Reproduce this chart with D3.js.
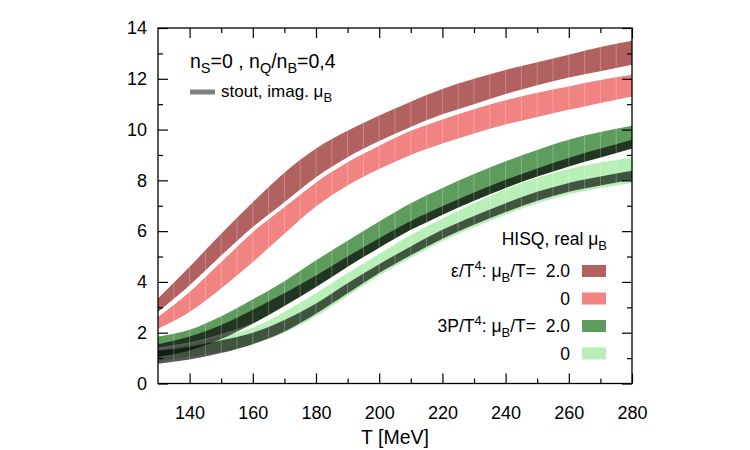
<!DOCTYPE html>
<html>
<head>
<meta charset="utf-8">
<script src="https://cdn.jsdelivr.net/npm/d3@7"></script>
<style>
  body { margin: 0; background: #fff; }
  svg { display: block; font-family: "Liberation Sans", Arial, Helvetica, sans-serif; }
</style>
</head>
<body>
<div class="chart"></div>
<script>
// temperature grid (MeV)
const T = [130, 140, 150, 160, 170, 180, 190, 200, 210, 220, 230, 240, 250, 260, 270, 280];

// HISQ, real muB : energy density eps/T^4
const epsMu2Lo = [2.82, 3.87, 5.04, 6.16, 7.14, 8.12, 8.91, 9.55, 10.1, 10.6, 11.0, 11.4, 11.75, 12.05, 12.3, 12.55];
const epsMu2Hi = [3.35, 4.6, 5.9, 7.14, 8.3, 9.25, 9.95, 10.55, 11.1, 11.6, 12.0, 12.35, 12.65, 12.95, 13.25, 13.5];
const epsMu0Lo = [2.16, 2.82, 3.74, 4.78, 5.9, 6.97, 7.8, 8.45, 9.0, 9.45, 9.85, 10.2, 10.5, 10.78, 11.05, 11.3];
const epsMu0Hi = [2.62, 3.6, 4.78, 5.96, 6.94, 7.92, 8.71, 9.36, 9.95, 10.4, 10.8, 11.15, 11.45, 11.7, 11.95, 12.16];

// HISQ, real muB : 3P/T^4
const pMu2Lo = [1.42, 1.62, 1.95, 2.38, 3.06, 3.8, 4.6, 5.35, 6.05, 6.65, 7.2, 7.7, 8.15, 8.55, 8.9, 9.25];
const pMu2Hi = [1.85, 2.12, 2.65, 3.32, 4.03, 4.85, 5.62, 6.38, 7.1, 7.7, 8.25, 8.75, 9.2, 9.6, 9.9, 10.15];
const pMu0Lo = [0.9, 1.05, 1.25, 1.55, 2.0, 2.65, 3.45, 4.25, 4.95, 5.6, 6.15, 6.65, 7.1, 7.45, 7.7, 7.9];
const pMu0Hi = [1.3, 1.55, 1.85, 2.2, 2.82, 3.55, 4.35, 5.1, 5.85, 6.5, 7.1, 7.65, 8.1, 8.45, 8.7, 8.9];

// stout, imaginary muB (grey bands)
const stoutMu2Lo = [1.05, 1.3, 1.75, 2.35, 3.05, 3.8, 4.6, 5.35, 6.05, 6.65, 7.2, 7.7, 8.15, 8.55, 8.9, 9.25];
const stoutMu2Hi = [1.55, 1.85, 2.3, 2.9, 3.55, 4.25, 5.0, 5.72, 6.4, 6.98, 7.52, 8.02, 8.47, 8.88, 9.25, 9.6];
const stoutMu0Lo = [0.78, 0.95, 1.2, 1.55, 2.05, 2.75, 3.55, 4.35, 5.05, 5.7, 6.25, 6.75, 7.2, 7.55, 7.8, 8.02];
const stoutMu0Hi = [1.3, 1.45, 1.7, 2.0, 2.5, 3.15, 3.95, 4.7, 5.4, 6.05, 6.6, 7.1, 7.55, 7.9, 8.15, 8.38];

const xTicks = [140, 160, 180, 200, 220, 240, 260, 280];
const yTicks = [0, 2, 4, 6, 8, 10, 12, 14];

const width = 750, height = 450;
const margin = {top: 28, right: 118, bottom: 66.5, left: 158};

const svg = d3.select('.chart').append('svg')
  .attr('width', width)
  .attr('height', height)
  .attr('viewBox', `0 0 ${width} ${height}`);

svg.append('rect').attr('width', width).attr('height', height).attr('fill', '#fff');

const x = d3.scaleLinear().domain([130, 280]).range([margin.left, width - margin.right]);
const y = d3.scaleLinear().domain([0, 14]).range([height - margin.bottom, margin.top]);

const area = d3.area()
  .x((d, i) => x(T[i]))
  .y0(d => y(d[0]))
  .y1(d => y(d[1]))
  .curve(d3.curveMonotoneX);

const pairs = (lo, hi) => T.map((t, i) => [lo[i], hi[i]]);

const bands = [
  {d: pairs(epsMu2Lo, epsMu2Hi), fill: '#b26161', op: 1},
  {d: pairs(epsMu0Lo, epsMu0Hi), fill: '#f28383', op: 1},
  {d: pairs(pMu2Lo, pMu2Hi), fill: '#5e9c5e', op: 1},
  {d: pairs(pMu0Lo, pMu0Hi), fill: '#b7efb7', op: 1},
  {d: pairs(stoutMu2Lo, stoutMu2Hi), fill: '#000', op: 0.65},
  {d: pairs(stoutMu0Lo, stoutMu0Hi), fill: '#000', op: 0.65}
];

// clip for the faint seams between the band segments
svg.append('clipPath').attr('id', 'bandClip')
  .selectAll('path').data(bands).join('path')
  .attr('d', b => area(b.d));

svg.append('g').selectAll('path').data(bands).join('path')
  .attr('d', b => area(b.d))
  .attr('fill', b => b.fill)
  .attr('fill-opacity', b => b.op);

svg.append('g').attr('clip-path', 'url(#bandClip)')
  .selectAll('line').data(d3.range(135, 280, 5)).join('line')
  .attr('x1', d => x(d)).attr('x2', d => x(d))
  .attr('y1', y(14)).attr('y2', y(0))
  .attr('stroke', '#fff').attr('stroke-opacity', 0.25).attr('stroke-width', 1);

// axes with inward ticks on all four sides
const styleAxis = g => {
  g.select('.domain').remove();
  g.selectAll('.tick line').attr('stroke', '#000').attr('stroke-width', 1.2);
  g.attr('font-family', null).attr('font-size', 18);
  g.selectAll('text').attr('fill', '#000');
};

svg.append('g').attr('transform', `translate(0,${y(0)})`)
  .call(d3.axisBottom(x).tickValues(xTicks).tickSize(-10).tickPadding(23).tickFormat(d3.format('d')))
  .call(styleAxis);
svg.append('g').attr('transform', `translate(0,${y(0)})`)
  .call(d3.axisBottom(x).tickValues(d3.range(150, 281, 20)).tickSize(-5).tickFormat(''))
  .call(styleAxis);
svg.append('g').attr('transform', `translate(0,${y(14)})`)
  .call(d3.axisTop(x).tickValues(xTicks).tickSize(-10).tickFormat(''))
  .call(styleAxis);
svg.append('g').attr('transform', `translate(0,${y(14)})`)
  .call(d3.axisTop(x).tickValues(d3.range(150, 281, 20)).tickSize(-5).tickFormat(''))
  .call(styleAxis);

svg.append('g').attr('transform', `translate(${x(130)},0)`)
  .call(d3.axisLeft(y).tickValues(yTicks).tickSize(-10).tickPadding(11).tickFormat(d3.format('d')))
  .call(styleAxis);
svg.append('g').attr('transform', `translate(${x(130)},0)`)
  .call(d3.axisLeft(y).tickValues(d3.range(1, 14, 2)).tickSize(-5).tickFormat(''))
  .call(styleAxis);
svg.append('g').attr('transform', `translate(${x(280)},0)`)
  .call(d3.axisRight(y).tickValues(yTicks).tickSize(-10).tickFormat(''))
  .call(styleAxis);
svg.append('g').attr('transform', `translate(${x(280)},0)`)
  .call(d3.axisRight(y).tickValues(d3.range(1, 14, 2)).tickSize(-5).tickFormat(''))
  .call(styleAxis);

svg.append('rect')
  .attr('x', x(130)).attr('y', y(14))
  .attr('width', x(280) - x(130)).attr('height', y(0) - y(14))
  .attr('fill', 'none').attr('stroke', '#000').attr('stroke-width', 1.3);

svg.append('text')
  .attr('x', (x(130) + x(280)) / 2).attr('y', 444)
  .attr('text-anchor', 'middle').attr('font-size', 19.5)
  .text('T [MeV]');

// helper: text made of runs; each run [string, shift] where shift 'sub' / 'sup' / none
function richText(sel, runs, big, small) {
  let cur = 0;
  runs.forEach(([s, k]) => {
    const target = k === 'sub' ? 5 : k === 'sup' ? -7 : 0;
    sel.append('tspan')
      .attr('dy', target - cur)
      .attr('font-size', k ? small : big)
      .text(s);
    cur = target;
  });
  if (cur !== 0) sel.append('tspan').attr('dy', -cur).text('');
}

// top-left legend
const tl = svg.append('text').attr('x', 190).attr('y', 68);
richText(tl, [['n'], ['S', 'sub'], ['=0 , n'], ['Q', 'sub'], ['/n'], ['B', 'sub'], ['=0,4']], 19.5, 14.5);

svg.append('line')
  .attr('x1', 190).attr('x2', 215).attr('y1', 92).attr('y2', 92)
  .attr('stroke', '#808080').attr('stroke-width', 5);
const st = svg.append('text').attr('x', 221).attr('y', 97);
richText(st, [['stout, imag. μ'], ['B', 'sub']], 17, 13);

// right legend
const hq = svg.append('text').attr('x', 607).attr('y', 245).attr('text-anchor', 'end');
richText(hq, [['HISQ, real μ'], ['B', 'sub']], 17.5, 13);

const legendLabels = [
  [['ε/T'], ['4', 'sup'], [': μ'], ['B', 'sub'], ['/T=\u00a0\u00a02.0']],
  [['0']],
  [['3P/T'], ['4', 'sup'], [': μ'], ['B', 'sub'], ['/T=\u00a0\u00a02.0']],
  [['0']]
];
const legendColors = ['#b26161', '#f28383', '#5e9c5e', '#b7efb7'];

legendLabels.forEach((runs, i) => {
  const yb = 277 + i * 27.5;
  const t = svg.append('text').attr('x', 570).attr('y', yb).attr('text-anchor', 'end');
  richText(t, runs, 17.5, 13);
  svg.append('rect')
    .attr('x', 582).attr('y', yb - 12)
    .attr('width', 24).attr('height', 12)
    .attr('fill', legendColors[i]);
});
</script>
</body>
</html>
